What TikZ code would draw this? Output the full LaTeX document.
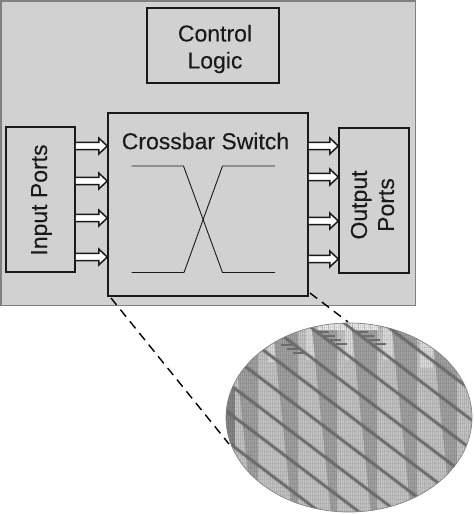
\documentclass[tikz,border=0pt]{standalone}
\usepackage{fontspec}
\setmainfont{Liberation Sans}
\newfontfamily\labelfont[FakeBold=0.15]{Liberation Sans}
\usetikzlibrary{calc}
\definecolor{panel}{gray}{0.82}
\definecolor{edge}{gray}{0.10}
\definecolor{lightcell}{gray}{0.77}
\definecolor{darkcell}{gray}{0.63}
\definecolor{diag}{gray}{0.42}
\definecolor{wedge}{gray}{0.86}
\definecolor{comb}{gray}{0.92}
\definecolor{rim}{gray}{0.52}
\definecolor{combline}{gray}{0.70}
\tikzset{
  box/.style={draw=edge,line width=1.5pt,fill=panel,inner sep=0pt},
  port/.style={draw=edge,line width=1.5pt,fill=white,line join=miter},
  wire/.style={draw=edge,line width=0.9pt},
  lead/.style={draw=black,line width=1.4pt,dash pattern=on 9pt off 6pt},
  txt/.style={font=\labelfont\fontsize{23}{27}\selectfont,align=center,text=edge}
}
\newcommand{\portarrow}[2]{%
  \draw[port] ($(#1)+(0,-3.6)$) -- ($(#2)+(-8.5,-3.6)$) -- ($(#2)+(-8.5,-8)$) -- (#2)
    -- ($(#2)+(-8.5,8)$) -- ($(#2)+(-8.5,3.6)$) -- ($(#1)+(0,3.6)$);}
\begin{document}
\begin{tikzpicture}[x=1pt,y=-1pt]
\useasboundingbox (0,0) rectangle (474,514);
\node[draw=gray,line width=1.2pt,fill=panel,minimum width=414.5pt,minimum height=304.5pt,anchor=north west,inner sep=0pt] (panel) at (0.5,0.5) {};
\node[box,minimum width=132pt,minimum height=75pt] (logic) at (213,45.5) {};
\node[txt] (logictxt) at (215,49) {Control\\Logic};
\node[box,minimum width=200pt,minimum height=183pt] (xbar) at (208,204.5) {};
\node[box,minimum width=69pt,minimum height=145pt] (in) at (40.5,199.5) {};
\node[rotate=90,txt] (intxt) at (41.5,200) {Input Ports};
\node[box,minimum width=70pt,minimum height=145pt] (out) at (374,200.5) {};
\node[rotate=90,txt] (outtxt) at (372.5,205) {Output\\Ports};
\node[txt] (xtxt) at (205.5,141) {Crossbar Switch};
\foreach \y [count=\i] in {146,181,218,257}{
  \coordinate (a\i) at (in.east |- 0,\y);
  \coordinate (b\i) at (xbar.west |- 0,\y);
  \portarrow{a\i}{b\i}
}
\foreach \y [count=\i] in {146,177,221,259}{
  \coordinate (c\i) at (xbar.east |- 0,\y);
  \coordinate (d\i) at (out.west |- 0,\y);
  \portarrow{c\i}{d\i}
}
\coordinate (w1) at (131.5,166); \coordinate (w2) at (183.5,166); \coordinate (w3) at (222.5,272.5); \coordinate (w4) at (275,272.5);
\coordinate (w5) at (131.5,272.5); \coordinate (w6) at (184,272.5); \coordinate (w7) at (222.5,166); \coordinate (w8) at (275,166);
\draw[wire] (w1) -- (w2) -- (w3) -- (w4);
\draw[wire] (w5) -- (w6) -- (w7) -- (w8);
% leads
\coordinate (l1) at (111,298); \coordinate (l2) at (229,444);
\coordinate (l3) at (310,293); \coordinate (l4) at (348,322);
\draw[lead] (l1) -- (l2);
\draw[lead] (l3) -- (l4);
% magnified die
\coordinate (ec) at (349,417.5);
\begin{scope}
\clip (ec) ellipse [x radius=123pt,y radius=94.5pt];
\fill[lightcell] (220,320) rectangle (474,514);
% light wedges at the top
\fill[wedge] (268,340) rectangle (275,362);
\fill[wedge] (306,325) rectangle (315,360);
\fill[wedge] (345,325) rectangle (353,360);
\fill[wedge] (383,325) rectangle (393,360);
\fill[wedge] (420,340) rectangle (433,368);
% dark bands narrowing downwards
\foreach \r in {258,298,337,377,417,457}{
  \fill[darkcell] (\r-25,330) -- (\r,330) -- (\r,514) -- (\r-6,514) -- cycle;
}
\fill[comb] (318,322) rectangle (378,330);
\fill[rim] (226,388) rectangle (235,448);
% fine grid, aligned with the pixels
\foreach \x in {226.5,228.5,...,474}{\draw[black,opacity=0.09,line width=1pt] (\x,320) -- (\x,514);}
\foreach \y in {323.5,327.5,...,514}{\draw[black,opacity=0.05,line width=1pt] (226,\y) -- (474,\y);}
\foreach \xa in {322.5,328.5,...,376}{\draw[combline,line width=0.8pt] (\xa,323.5) -- (\xa,331);}
% diagonals
\foreach \c in {2.5,32,61.6,91,121,150,180,210,239,269}{
  \draw[black,opacity=0.10,line width=4.6pt] (220,220*0.76+\c) -- (480,480*0.76+\c);
  \draw[diag,line width=2.4pt] (220,220*0.76+\c) -- (480,480*0.76+\c);
}
% staircase ticks near the top
\foreach \x/\y in {318/332,324/336,330/340,336/344,357/332,363/336,369/340,375/344,281/345,287/349,293/353}{
  \draw[diag,line width=1.1pt] (\x,\y) -- ++(11,0);
}
\end{scope}
\draw[rim,line width=0.7pt] (ec) ellipse [x radius=123pt,y radius=94.5pt];
\end{tikzpicture}
\end{document}
